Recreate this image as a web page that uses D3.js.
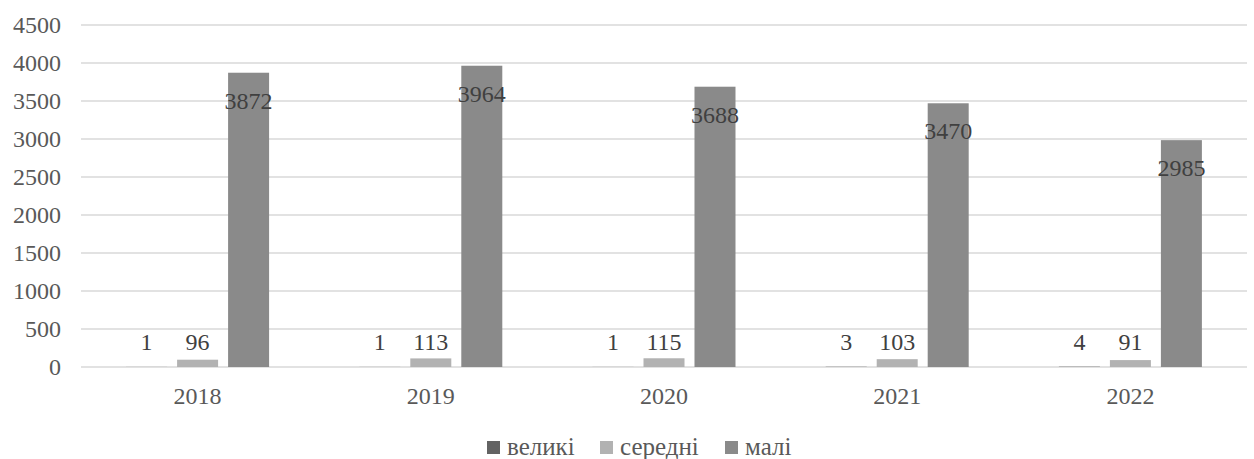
<!DOCTYPE html>
<html>
<head>
<meta charset="utf-8">
<script src="https://cdn.jsdelivr.net/npm/d3@7"></script>
<style>
  body { margin: 0; background: #fff; }
</style>
</head>
<body>
<div id="chart"></div>
<script>
let width = 1254,
    height = 459;

// data
let years = ["2018", "2019", "2020", "2021", "2022"];
let seriesNames = ["великі", "середні", "малі"];
let velyki = [1, 1, 1, 3, 4];
let seredni = [96, 113, 115, 103, 91];
let mali = [3872, 3964, 3688, 3470, 2985];
let yTicks = [0, 500, 1000, 1500, 2000, 2500, 3000, 3500, 4000, 4500];
let colors = ["#636363", "#b2b2b2", "#8a8a8a"];

let allSeries = [velyki, seredni, mali];

let plot = { left: 81, right: 1247, top: 25, bottom: 367 };
let fontSize = "24px";
let serif = "'Liberation Serif'";

let svg = d3.select("#chart")
    .append("svg")
    .attr("width", width)
    .attr("height", height);

// scales
let x = d3.scaleBand()
    .domain(years)
    .range([plot.left, plot.right])
    .paddingInner(0.344)
    .paddingOuter(0.172);

let xInner = d3.scaleBand()
    .domain(seriesNames)
    .range([0, x.bandwidth()])
    .paddingInner(0.196)
    .paddingOuter(0.098);

let y = d3.scaleLinear()
    .domain([0, 4500])
    .range([plot.bottom, plot.top]);

// gridlines
svg.append("g")
    .selectAll("line")
    .data(yTicks)
    .enter()
    .append("line")
    .attr("x1", plot.left)
    .attr("x2", plot.right)
    .attr("y1", d => y(d))
    .attr("y2", d => y(d))
    .style("stroke", "#d9d9d9")
    .style("stroke-width", 1.3);

// y tick labels
svg.append("g")
    .selectAll("text")
    .data(yTicks)
    .enter()
    .append("text")
    .attr("x", 61)
    .attr("y", d => y(d))
    .attr("dy", "0.33em")
    .attr("text-anchor", "end")
    .style("font-family", serif)
    .style("font-size", fontSize)
    .style("fill", "#595959")
    .text(d => d);

// x labels
svg.append("g")
    .selectAll("text")
    .data(years)
    .enter()
    .append("text")
    .attr("x", d => x(d) + x.bandwidth() / 2)
    .attr("y", 404)
    .attr("text-anchor", "middle")
    .style("font-family", serif)
    .style("font-size", fontSize)
    .style("fill", "#595959")
    .text(d => d);

// bars + labels, one group per series
seriesNames.forEach(function(name, s) {
    let rows = years.map((yr, i) => ({ year: yr, value: allSeries[s][i] }));
    let g = svg.append("g").attr("class", "series");

    g.selectAll("rect")
        .data(rows)
        .enter()
        .append("rect")
        .attr("x", d => x(d.year) + xInner(name))
        .attr("width", xInner.bandwidth())
        .attr("y", d => y(d.value))
        .attr("height", d => y(0) - y(d.value))
        .style("fill", colors[s]);

    //labels: inside the top for the tall bars, above the axis for the rest
    g.selectAll("text")
        .data(rows)
        .enter()
        .append("text")
        .attr("x", d => x(d.year) + xInner(name) + xInner.bandwidth() / 2)
        .attr("y", d => name === "малі" ? y(d.value) + 36 : y(0) - 17)
        .attr("text-anchor", "middle")
        .style("font-family", serif)
        .style("font-size", fontSize)
        .style("fill", "#404040")
        .text(d => d.value);
});

// legend
let legendX = [487, 600, 725];
let legend = svg.append("g")
    .selectAll("g")
    .data(seriesNames)
    .enter()
    .append("g")
    .attr("transform", (d, i) => "translate(" + legendX[i] + ",441)");

legend.append("rect")
    .attr("width", 13)
    .attr("height", 13)
    .style("fill", (d, i) => colors[i]);

legend.append("text")
    .attr("x", 20)
    .attr("y", 14)
    .style("font-family", serif)
    .style("font-size", "25px")
    .style("fill", "#595959")
    .text(d => d);
</script>
</body>
</html>
